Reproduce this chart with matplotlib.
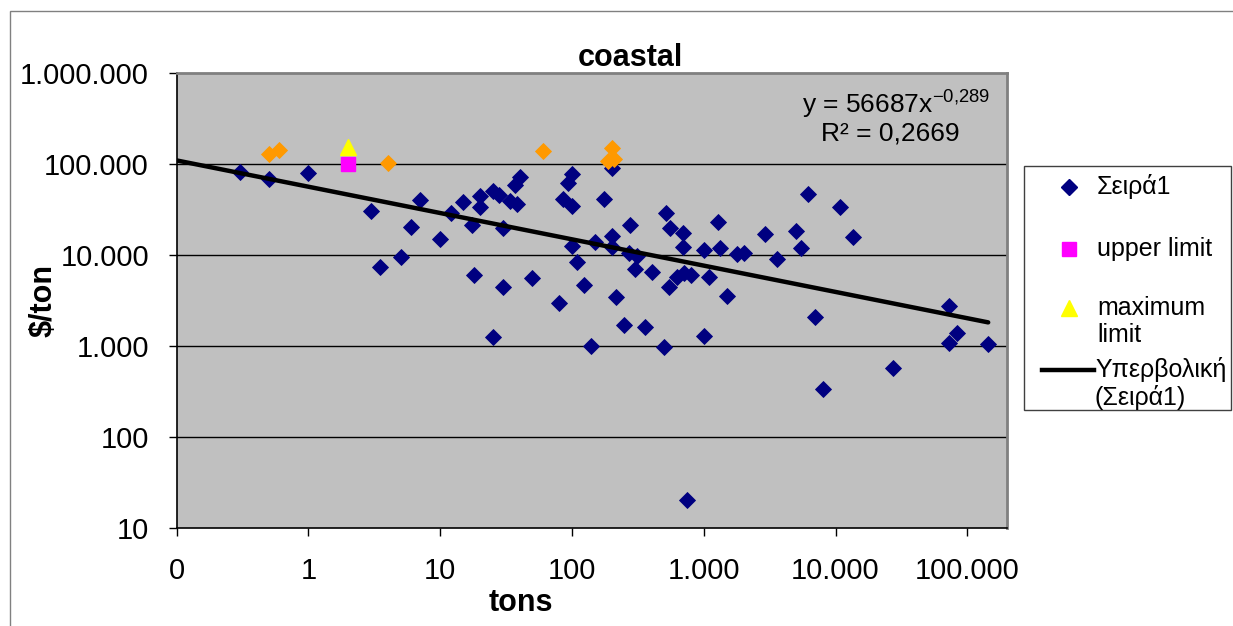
import numpy as np
import matplotlib
matplotlib.use('Agg')
from matplotlib import pyplot as plt
from matplotlib.patches import Rectangle
from matplotlib.lines import Line2D

plt.rcParams['font.family'] = ['Liberation Sans', 'DejaVu Sans']
plt.rcParams['mathtext.fontset'] = 'custom'
plt.rcParams['mathtext.rm'] = 'Liberation Sans'
plt.rcParams['mathtext.it'] = 'Liberation Sans'

# Σειρά1 (tons, $/ton)
seira_x = [0.3, 0.5, 1.0, 3, 3.5, 5, 6, 7, 10, 12, 15, 17.5, 20, 20, 25, 28, 30,
           37, 40, 34, 38, 85, 100, 94, 100, 174, 200, 100, 110, 149, 200, 200,
           18, 30, 50, 80, 124, 217, 277, 269, 311, 300, 404, 519, 557, 699, 699,
           629, 703, 801, 541, 1097, 1277, 1000, 1334, 1787, 2005, 1500, 2890,
           3600, 5040, 5480, 6180, 10900, 13500, 73100, 249, 355, 140, 495, 1000,
           6990, 7980, 27200, 83700, 72200, 144000, 745, 25]
seira_y = [83000, 68400, 79700, 30700, 7500, 9660, 20600, 40500, 15000, 29400,
           38500, 21500, 44800, 34200, 51500, 45700, 19800, 59300, 71900, 39200,
           36600, 41200, 34500, 61800, 78200, 41200, 90400, 12700, 8380, 14000,
           16300, 12300, 6070, 4430, 5590, 2990, 4660, 3510, 21500, 10600, 9820,
           7020, 6510, 29200, 19800, 17600, 12200, 5780, 6390, 6070, 4450, 5730,
           23500, 11400, 11900, 10400, 10700, 3570, 17100, 9160, 18300, 12100,
           46800, 34200, 16000, 2790, 1710, 1640, 1010, 990, 1310, 2110, 342, 573,
           1390, 1100, 1050, 20.5, 1270]

# other points (orange, no legend entry)
orange_x = [0.5, 0.6, 4, 60, 188, 201, 209]
orange_y = [130000, 143600, 102600, 139000, 110000, 150000, 114000]

upper_x = [2]
upper_y = [100000]
maximum_x = [2]
maximum_y = [154000]

# power trendline y = a * x^b
trend_a = 56687
trend_b = -0.289
trend_x = [0.1, 144000]

xticks = [0.1, 1, 10, 100, 1000, 10000, 100000]
xticklabels = ['0', '1', '10', '100', '1.000', '10.000', '100.000']
yticks = [10, 100, 1000, 10000, 100000, 1000000]
yticklabels = ['10', '100', '1.000', '10.000', '100.000', '1.000.000']

W, H = 1233, 626
fig = plt.figure(figsize=(W / 100, H / 100), dpi=100)
fig.patch.set_facecolor('white')


def fx(px):
    return px / W


def fy(py):
    return 1 - py / H


# chart area border
fig.add_artist(Rectangle((fx(10), -0.1), 1.2, fy(11) + 0.1, transform=fig.transFigure,
                         fill=False, edgecolor='#808080', lw=1.0))

ax_l, ax_r, ax_t, ax_b = 176.7, 1007, 73.3, 528.3
ax = fig.add_axes([fx(ax_l), fy(ax_b), fx(ax_r) - fx(ax_l), fy(ax_t) - fy(ax_b)])
ax.set_facecolor('#C0C0C0')
ax.set_xscale('log')
ax.set_yscale('log')
ax.set_xlim(0.1, 2.0e5)
ax.set_ylim(10, 1e6)

for yv in yticks[1:-1]:
    ax.axhline(yv, color='black', lw=1.0, zorder=1)

tx = np.logspace(np.log10(trend_x[0]), np.log10(trend_x[1]), 100)
ax.plot(tx, trend_a * tx ** trend_b, color='black', lw=3.2, zorder=4,
        solid_capstyle='round')

ax.plot(seira_x, seira_y, linestyle='none', marker='D', ms=8, color='#000080',
        mec='#000080', mew=0.6, zorder=3)
ax.plot(orange_x, orange_y, linestyle='none', marker='D', ms=8, color='#FF9900',
        mec='#FF9900', mew=0.6, zorder=3)
ax.plot(upper_x, upper_y, linestyle='none', marker='s', ms=10.5, color='#FF00FF',
        mec='#FF00FF', zorder=3)
ax.plot(maximum_x, maximum_y, linestyle='none', marker='^', ms=11.5, color='#FFFF00',
        mec='#FFFF00', zorder=3)

ax.xaxis.set_minor_locator(matplotlib.ticker.NullLocator())
ax.yaxis.set_minor_locator(matplotlib.ticker.NullLocator())
ax.set_xticks(xticks)
ax.set_xticklabels(xticklabels)
ax.set_yticks(yticks)
ax.set_yticklabels(yticklabels)
ax.tick_params(axis='both', direction='out', length=6, width=1, color='black',
               labelsize=21)
ax.tick_params(axis='y', pad=14)
ax.tick_params(axis='x', pad=15)

for side in ['top', 'right']:
    ax.spines[side].set_color('#808080')
    ax.spines[side].set_linewidth(2)
for side in ['left', 'bottom']:
    ax.spines[side].set_color('black')
    ax.spines[side].set_linewidth(1.2)

plot_w = ax_r - ax_l
plot_h = ax_b - ax_t
ax.set_title('coastal', fontsize=22, fontweight='bold', x=(630 - ax_l) / plot_w, pad=4)
ax.set_xlabel('tons', fontsize=22, fontweight='bold', va='center')
ax.xaxis.set_label_coords((521 - ax_l) / plot_w, -(603 - ax_b) / plot_h)
ax.set_ylabel('\\$/ton', fontsize=22, fontweight='bold', va='center')
ax.yaxis.set_label_coords((44 - ax_l) / plot_w, 0.5)

# trendline equation
ax.text(0.98, 0.93, 'y = 56687x$^{-0{,}289}$', transform=ax.transAxes, ha='right',
        va='center', fontsize=19)
ax.text(0.86, 0.867, 'R² = 0,2669', transform=ax.transAxes, ha='center',
        va='center', fontsize=19)

# legend
fig.add_artist(Rectangle((fx(1024), fy(410)), fx(1231) - fx(1024), fy(166) - fy(410),
                         transform=fig.transFigure, facecolor='white',
                         edgecolor='#404040', lw=1.0))
fig.add_artist(Line2D([fx(1069)], [fy(187)], transform=fig.transFigure, marker='D',
                      ms=8, color='#000080', linestyle='none'))
fig.add_artist(Line2D([fx(1069)], [fy(249)], transform=fig.transFigure, marker='s',
                      ms=10.5, color='#FF00FF', linestyle='none'))
fig.add_artist(Line2D([fx(1069)], [fy(308)], transform=fig.transFigure, marker='^',
                      ms=11.5, color='#FFFF00', linestyle='none'))
fig.add_artist(Line2D([fx(1042), fx(1094)], [fy(370), fy(370)], transform=fig.transFigure,
                      color='black', lw=3.2))
fig.text(fx(1097), fy(187), 'Σειρά1', fontsize=18, va='center')
fig.text(fx(1097), fy(249), 'upper limit', fontsize=18, va='center')
fig.text(fx(1097), fy(308), 'maximum', fontsize=18, va='center')
fig.text(fx(1097), fy(335), 'limit', fontsize=18, va='center')
fig.text(fx(1095), fy(370), 'Υπερβολική', fontsize=18, va='center')
fig.text(fx(1095), fy(397), '(Σειρά1)', fontsize=18, va='center')

fig.savefig('out.png', dpi=100)
